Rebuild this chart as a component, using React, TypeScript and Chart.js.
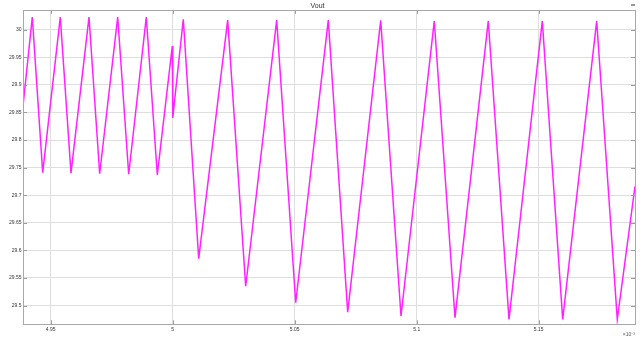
import React, { useEffect, useRef } from "react";
import { Chart, registerables } from "chart.js";

Chart.register(...registerables);

// time axis in units of 1e-3 s
const timeMs = [
  4.93865, 4.94246, 4.94672, 4.95393, 4.95832, 4.9657, 4.97008, 4.97746, 4.98197, 4.98918,
  4.99369, 4.99984, 5.00002, 5.00434, 5.01066, 5.02254, 5.02992, 5.04262, 5.05041, 5.06377,
  5.07172, 5.08525, 5.09357, 5.10721, 5.1157, 5.12934, 5.13783, 5.15148, 5.15984, 5.17377,
  5.18221, 5.18947,
];
const vout = [
  29.862, 30.023, 29.741, 30.023, 29.74, 30.023, 29.739, 30.023, 29.738, 30.023,
  29.737, 29.9705, 29.84, 30.019, 29.585, 30.0175, 29.535, 30.0175, 29.505, 30.0175,
  29.488, 30.017, 29.481, 30.016, 29.478, 30.016, 29.475, 30.016, 29.475, 30.016,
  29.475, 29.716,
];
const xTicks = [4.95, 5.0, 5.05, 5.1, 5.15];
const yTicks = [29.5, 29.55, 29.6, 29.65, 29.7, 29.75, 29.8, 29.85, 29.9, 29.95, 30];
const titleText = "Vout";
const exponentText = "×10⁻³";

const FONT = "'Liberation Sans', Arial, sans-serif";

const framePlugin = {
  id: "frameTicks",
  afterDraw(chart: any) {
    const { ctx, chartArea, scales } = chart;
    const { left, right, top, bottom } = chartArea;
    ctx.save();
    ctx.strokeStyle = "#9c9c9c";
    ctx.lineWidth = 1;
    ctx.beginPath();
    for (const v of xTicks) {
      const px = Math.round(scales.x.getPixelForValue(v)) + 0.5;
      ctx.moveTo(px, bottom);
      ctx.lineTo(px, bottom - 4);
      ctx.moveTo(px, top);
      ctx.lineTo(px, top + 4);
    }
    for (const v of yTicks) {
      const py = Math.round(scales.y.getPixelForValue(v)) + 0.5;
      ctx.moveTo(left, py);
      ctx.lineTo(left + 4, py);
      ctx.moveTo(right, py);
      ctx.lineTo(right - 4, py);
    }
    ctx.stroke();
    ctx.strokeStyle = "#a8a8a8";
    ctx.strokeRect(Math.round(left) + 0.5, Math.round(top) + 0.5, Math.round(right - left), Math.round(bottom - top));
    ctx.fillStyle = "#555";
    ctx.font = `5px ${FONT}`;
    ctx.textAlign = "right";
    ctx.textBaseline = "middle";
    ctx.fillText(exponentText, right, 335);
    ctx.fillStyle = "#9a9a9a";
    ctx.fillRect(631, 4, 4, 2);
    ctx.restore();
  },
};

export default function App() {
  const ref = useRef<HTMLCanvasElement>(null);
  useEffect(() => {
    if (!ref.current) return;
    const points = timeMs.map((t, i) => ({ x: t, y: vout[i] }));
    const chart = new Chart(ref.current, {
      type: "line",
      data: {
        datasets: [
          {
            data: points,
            borderColor: "#ff22ff",
            borderWidth: 1.5,
            pointRadius: 0,
            tension: 0,
            fill: false,
          },
        ],
      },
      options: {
        animation: false,
        responsive: false,
        maintainAspectRatio: false,
        layout: { padding: { left: 0, right: 5, top: 0, bottom: 0 } },
        plugins: {
          legend: { display: false },
          tooltip: { enabled: false },
          title: {
            display: true,
            text: titleText,
            color: "#333",
            font: { size: 7, family: FONT, weight: "normal" },
            padding: { top: 1.5, bottom: 0 },
          },
        },
        scales: {
          x: {
            type: "linear",
            min: 4.93865,
            max: 5.18947,
            afterBuildTicks: (s: any) => {
              s.ticks = xTicks.map((v) => ({ value: v }));
            },
            afterFit: (s: any) => {
              s.height = 13.7;
            },
            ticks: {
              color: "#333",
              font: { size: 5, family: FONT },
              padding: 2,
              maxRotation: 0,
              autoSkip: false,
              callback: (v: any) => String(Math.round(Number(v) * 100) / 100),
            },
            grid: { color: "#dedede", drawTicks: false, lineWidth: 1 },
            border: { display: false },
          },
          y: {
            type: "linear",
            min: 29.466,
            max: 30.036,
            afterBuildTicks: (s: any) => {
              s.ticks = yTicks.map((v) => ({ value: v }));
            },
            afterFit: (s: any) => {
              s.width = 23;
            },
            ticks: {
              color: "#333",
              font: { size: 5, family: FONT },
              padding: 1.5,
              autoSkip: false,
              callback: (v: any) => String(Math.round(Number(v) * 100) / 100),
            },
            grid: { color: "#dedede", drawTicks: false, lineWidth: 1 },
            border: { display: false },
          },
        },
      },
      plugins: [framePlugin],
    });
    return () => chart.destroy();
  }, []);
  return (
    <div style={{ position: "fixed", left: 0, top: 0, width: 640, height: 338, background: "#fff" }}>
      <canvas ref={ref} width={640} height={338} style={{ width: 640, height: 338, display: "block" }} />
    </div>
  );
}
